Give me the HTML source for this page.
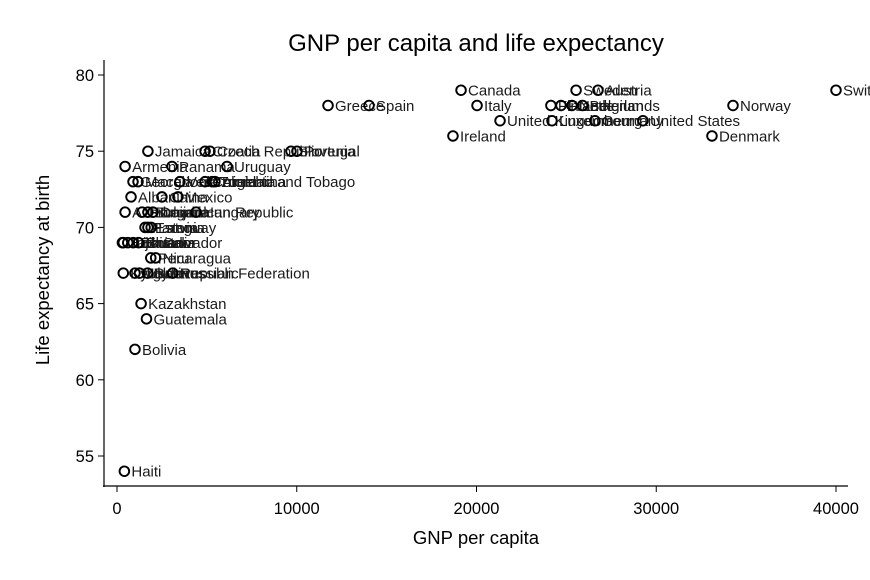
<!DOCTYPE html>
<html><head><meta charset="utf-8">
<style>
html,body{margin:0;padding:0;background:#fff;}
svg{display:block;font-family:"Liberation Sans",Arial,sans-serif;}
</style></head>
<body>
<svg id="chart" width="870" height="580" viewBox="0 0 870 580">
<rect width="870" height="580" fill="#fff"/>
<text x="476" y="51" font-size="24" text-anchor="middle" fill="#000">GNP per capita and life expectancy</text>
<text x="476" y="544" font-size="18.5" text-anchor="middle" fill="#000">GNP per capita</text>
<text x="0" y="0" font-size="18.5" text-anchor="middle" fill="#000" transform="translate(49,270) rotate(-90)">Life expectancy at birth</text>
<line x1="104" y1="60" x2="104" y2="487" stroke="#000" stroke-width="1.2"/>
<line x1="103" y1="486" x2="848" y2="486" stroke="#000" stroke-width="1.2"/>
<g id="ticks"></g>
<g id="points"></g>
</svg>
<script>
const countries=["Switzerland","Norway","Denmark","Canada","Sweden","Austria","Italy","Greece","Spain","Finland","France","Netherlands","Belgium","United Kingdom","Luxembourg","Germany","United States","Ireland",
"Jamaica","Croatia","Czech Republic","Slovenia","Portugal","Armenia","Panama","Uruguay","Georgia","Macedonia","Venezuela","Colombia","Argentina","Trinidad and Tobago","Albania","China","Mexico","Azerbaijan","Romania","Bulgaria","Dominican Republic","Hungary","Paraguay","Estonia","Latvia","Tajikistan","Bosnia","Lithuania","Ecuador","El Salvador","Peru","Nicaragua","Kyrgyz Republic","Moldova","Ukraine","Belarus","Russian Federation","Kazakhstan","Guatemala","Bolivia","Haiti"];
const gnp=[40000,34270,33100,19140,25540,26760,20030,11740,14020,24140,24700,25310,25900,21310,24200,26590,29260,18690,
1720,4900,5170,9680,10010,450,3060,6120,890,1170,3500,4900,5450,5300,780,2500,3390,450,1390,1720,2000,4400,1560,1720,1900,300,350,600,900,1200,1880,2150,350,1000,1250,1700,3100,1340,1640,1000,410];
const lexp=[79,78,76,79,79,79,78,78,78,78,78,78,78,77,77,77,77,76,
75,75,75,75,75,74,74,74,73,73,73,73,73,73,72,72,72,71,71,71,71,71,70,70,70,69,69,69,69,69,68,68,67,67,67,67,67,65,64,62,54];
const xTicks=[0,10000,20000,30000,40000];
const yTicks=[55,60,65,70,75,80];
const NS="http://www.w3.org/2000/svg";
function xs(v){return 117+v*(719/40000);}
function ys(v){return 75+(80-v)*(381/25);}
const tg=document.getElementById('ticks');
xTicks.forEach(t=>{
  const l=document.createElementNS(NS,'line');
  l.setAttribute('x1',xs(t));l.setAttribute('x2',xs(t));l.setAttribute('y1',486);l.setAttribute('y2',492);
  l.setAttribute('stroke','#000');
  
  
  tg.appendChild(l);
  const tx=document.createElementNS(NS,'text');
  tx.setAttribute('x',xs(t));tx.setAttribute('y',514);tx.setAttribute('font-size','16.5');tx.setAttribute('text-anchor','middle');
  tx.textContent=t;
  
  
  tg.appendChild(tx);
});
yTicks.forEach(t=>{
  const l=document.createElementNS(NS,'line');
  l.setAttribute('x1',98);l.setAttribute('x2',104);l.setAttribute('y1',ys(t));l.setAttribute('y2',ys(t));
  l.setAttribute('stroke','#000');
  
  
  tg.appendChild(l);
  const tx=document.createElementNS(NS,'text');
  tx.setAttribute('x',94);tx.setAttribute('y',ys(t)+6);tx.setAttribute('font-size','16.5');tx.setAttribute('text-anchor','end');
  tx.textContent=t;
  
  
  tg.appendChild(tx);
});
const pg=document.getElementById('points');
countries.forEach((c,i)=>{
  const cx=xs(gnp[i]),cy=ys(lexp[i]);
  const ci=document.createElementNS(NS,'circle');
  ci.setAttribute('cx',cx);ci.setAttribute('cy',cy);ci.setAttribute('r',4.8);
  ci.setAttribute('fill','none');ci.setAttribute('stroke','#000');ci.setAttribute('stroke-width','1.9');
  
  
  pg.appendChild(ci);
  const tx=document.createElementNS(NS,'text');
  tx.setAttribute('x',cx+7);tx.setAttribute('y',cy+5.5);tx.setAttribute('font-size','15');tx.setAttribute('fill','#1a1a1a');
  tx.textContent=c;
  
  
  pg.appendChild(tx);
});
</script>
</body></html>
